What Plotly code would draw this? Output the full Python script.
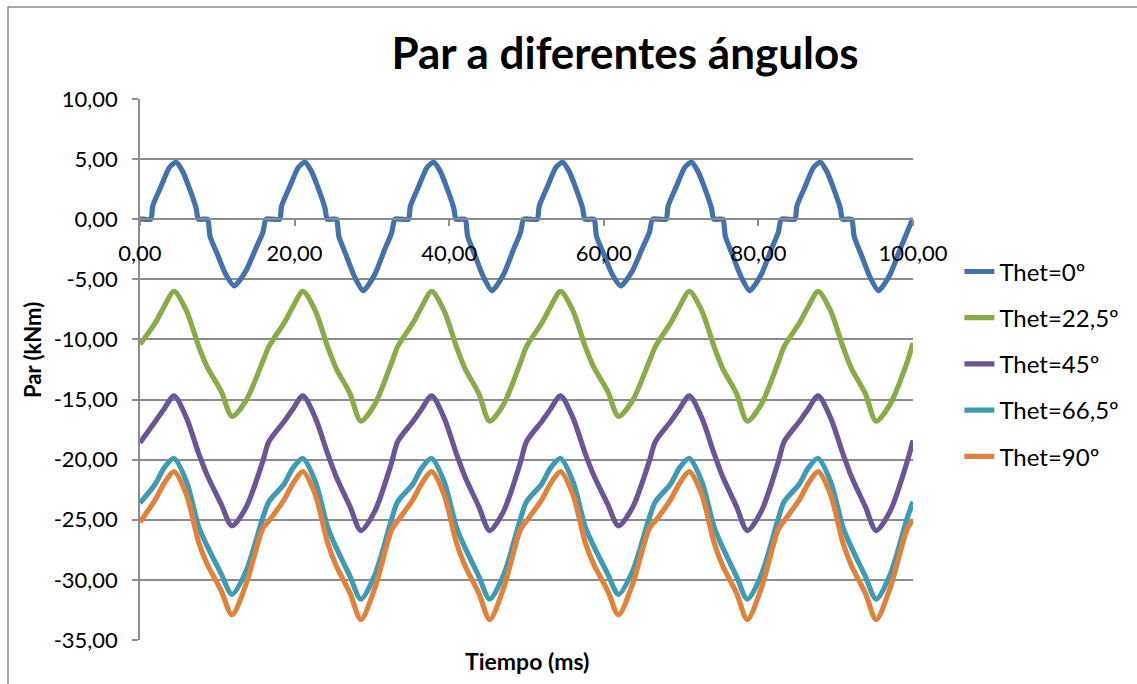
import plotly.graph_objects as go

# Tiempo (ms) for Thet=0º
t_thet0 = [
    0, 0.5, 1.4, 1.65, 2.7, 3.8, 4.66, 5.5, 6.2, 7.25, 7.55, 8.15, 8.75, 9.05, 10.0, 11.1, 12.2, 13.7, 15.0, 15.9, 16.3,
    17.17, 18.07, 18.32, 19.37, 20.47, 21.33, 22.17, 22.87, 23.92, 24.22, 24.82, 25.42, 25.72, 26.67, 27.77, 28.87, 30.37, 31.67, 32.57, 32.97,
    33.83, 34.73, 34.98, 36.03, 37.13, 37.99, 38.83, 39.53, 40.58, 40.88, 41.48, 42.08, 42.38, 43.33, 44.43, 45.53, 47.03, 48.33, 49.23, 49.63,
    50.5, 51.4, 51.65, 52.7, 53.8, 54.66, 55.5, 56.2, 57.25, 57.55, 58.15, 58.75, 59.05, 60.0, 61.1, 62.2, 63.7, 65.0, 65.9, 66.3,
    67.17, 68.07, 68.32, 69.37, 70.47, 71.33, 72.17, 72.87, 73.92, 74.22, 74.82, 75.42, 75.72, 76.67, 77.77, 78.87, 80.37, 81.67, 82.57, 82.97,
    83.83, 84.73, 84.98, 86.03, 87.13, 87.99, 88.83, 89.53, 90.58, 90.88, 91.48, 92.08, 92.38, 93.33, 94.43, 95.53, 97.03, 98.33, 99.23, 100,
]

# Par (kNm), Thet=0º
par_thet0 = [
    0, 0, 0, 1.1, 2.7, 4.3, 4.75, 4.0, 2.9, 0.95, 0, 0, 0, -1.4, -2.9, -4.6, -5.55, -4.3, -2.4, -1.1, 0,
    0, 0, 1.1, 2.7, 4.3, 4.75, 4.0, 2.9, 0.95, 0, 0, 0, -1.4, -3.0, -4.8, -5.95, -4.6, -2.5, -1.1, 0,
    0, 0, 1.1, 2.7, 4.3, 4.75, 4.0, 2.9, 0.95, 0, 0, 0, -1.4, -3.0, -4.8, -5.95, -4.6, -2.5, -1.1, 0,
    0, 0, 1.1, 2.7, 4.3, 4.75, 4.0, 2.9, 0.95, 0, 0, 0, -1.4, -2.9, -4.6, -5.55, -4.3, -2.4, -1.1, 0,
    0, 0, 1.1, 2.7, 4.3, 4.75, 4.0, 2.9, 0.95, 0, 0, 0, -1.4, -3.0, -4.8, -5.95, -4.6, -2.5, -1.1, 0,
    0, 0, 1.1, 2.7, 4.3, 4.75, 4.0, 2.9, 0.95, 0, 0, 0, -1.4, -3.0, -4.8, -5.95, -4.6, -2.5, -1.1, 0.1,
]

# Tiempo (ms) shared by the other four angles
t_thet = [
    0, 2.0, 3.1, 4.4, 6.0, 7.6, 8.7, 10.5, 11.9, 13.7, 15.9,
    16.67, 18.67, 19.77, 21.07, 22.67, 24.27, 25.37, 27.17, 28.57, 30.37, 32.57,
    33.33, 35.33, 36.43, 37.73, 39.33, 40.93, 42.03, 43.83, 45.23, 47.03, 49.23,
    50.0, 52.0, 53.1, 54.4, 56.0, 57.6, 58.7, 60.5, 61.9, 63.7, 65.9,
    66.67, 68.67, 69.77, 71.07, 72.67, 74.27, 75.37, 77.17, 78.57, 80.37, 82.57,
    83.33, 85.33, 86.43, 87.73, 89.33, 90.93, 92.03, 93.83, 95.23, 97.03, 99.23,
    100,
]

par_thet22 = [
    -10.4, -8.6, -7.3, -6.0, -7.6, -10.6, -12.3, -14.3, -16.4, -15.1, -11.8,
    -10.6, -8.6, -7.3, -6.0, -7.6, -10.6, -12.4, -14.5, -16.8, -15.4, -11.9,
    -10.6, -8.6, -7.3, -6.0, -7.6, -10.6, -12.4, -14.5, -16.8, -15.4, -11.9,
    -10.6, -8.6, -7.3, -6.0, -7.6, -10.6, -12.3, -14.3, -16.4, -15.1, -11.8,
    -10.6, -8.6, -7.3, -6.0, -7.6, -10.6, -12.4, -14.5, -16.8, -15.4, -11.9,
    -10.6, -8.6, -7.3, -6.0, -7.6, -10.6, -12.4, -14.5, -16.8, -15.4, -11.9,
    -10.3,
]

par_thet45 = [
    -18.6, -16.8, -15.8, -14.7, -16.5, -19.5, -21.3, -23.7, -25.5, -24.0, -20.1,
    -18.5, -16.8, -15.8, -14.7, -16.5, -19.5, -21.4, -23.9, -25.9, -24.3, -20.2,
    -18.5, -16.8, -15.8, -14.7, -16.5, -19.5, -21.4, -23.9, -25.9, -24.3, -20.2,
    -18.5, -16.8, -15.8, -14.7, -16.5, -19.5, -21.3, -23.7, -25.5, -24.0, -20.1,
    -18.5, -16.8, -15.8, -14.7, -16.5, -19.5, -21.4, -23.9, -25.9, -24.3, -20.2,
    -18.5, -16.8, -15.8, -14.7, -16.5, -19.5, -21.4, -23.9, -25.9, -24.3, -20.2,
    -18.4,
]

par_thet66 = [
    -23.6, -22.0, -20.7, -19.9, -21.8, -25.6, -27.2, -29.5, -31.2, -29.3, -24.8,
    -23.5, -22.0, -20.7, -19.9, -21.8, -25.6, -27.3, -29.7, -31.6, -29.6, -24.9,
    -23.5, -22.0, -20.7, -19.9, -21.8, -25.6, -27.3, -29.7, -31.6, -29.6, -24.9,
    -23.5, -22.0, -20.7, -19.9, -21.8, -25.6, -27.2, -29.5, -31.2, -29.3, -24.8,
    -23.5, -22.0, -20.7, -19.9, -21.8, -25.6, -27.3, -29.7, -31.6, -29.6, -24.9,
    -23.5, -22.0, -20.7, -19.9, -21.8, -25.6, -27.3, -29.7, -31.6, -29.6, -24.9,
    -23.5,
]

par_thet90 = [
    -25.2, -23.3, -22.0, -21.0, -22.9, -26.9, -28.7, -30.9, -32.9, -30.4, -25.7,
    -25.1, -23.3, -22.0, -21.0, -22.9, -26.9, -28.8, -31.1, -33.3, -30.7, -25.8,
    -25.1, -23.3, -22.0, -21.0, -22.9, -26.9, -28.8, -31.1, -33.3, -30.7, -25.8,
    -25.1, -23.3, -22.0, -21.0, -22.9, -26.9, -28.7, -30.9, -32.9, -30.4, -25.7,
    -25.1, -23.3, -22.0, -21.0, -22.9, -26.9, -28.8, -31.1, -33.3, -30.7, -25.8,
    -25.1, -23.3, -22.0, -21.0, -22.9, -26.9, -28.8, -31.1, -33.3, -30.7, -25.8,
    -25.0,
]

series_names = ["Thet=0º", "Thet=22,5º", "Thet=45º", "Thet=66,5º", "Thet=90º"]
series_colors = ["#4571AA", "#89AB4A", "#6C5593", "#3F9BB4", "#E0823A"]
series_smoothing = [0.6, 0.8, 0.8, 0.8, 0.8]

x_ticks = [0, 20, 40, 60, 80, 100]
x_tick_labels = ["0,00", "20,00", "40,00", "60,00", "80,00", "100,00"]
y_ticks = [10, 5, 0, -5, -10, -15, -20, -25, -30, -35]
y_tick_labels = ["10,00", "5,00", "0,00", "-5,00", "-10,00", "-15,00",
                 "-20,00", "-25,00", "-30,00", "-35,00"]

FONT = "Lato, Calibri, 'Open Sans', sans-serif"
GRID = "#8C8C8C"

fig = go.Figure()
xs = [t_thet0, t_thet, t_thet, t_thet, t_thet]
ys = [par_thet0, par_thet22, par_thet45, par_thet66, par_thet90]
for i, (name, color, sm, x, y) in enumerate(zip(series_names, series_colors, series_smoothing, xs, ys)):
    fig.add_trace(go.Scatter(
        x=x, y=y, name=name, mode="lines",
        line=dict(color=color, width=5.2, shape="spline", smoothing=sm),
        legendgroup=f"g{i}",
    ))

Y_MIN, Y_MAX = -35, 10
fig.update_layout(
    width=1137, height=684,
    margin=dict(l=140, r=224, t=99, b=44),
    paper_bgcolor="white", plot_bgcolor="white",
    font=dict(family=FONT, size=22, color="black"),
    title=dict(text="<b>Par a diferentes ángulos</b>", x=625 / 1137, xref="container",
               xanchor="center", y=1 - 54 / 684, yref="container", yanchor="middle",
               font=dict(family=FONT, size=44, color="black")),
    showlegend=True,
    legend=dict(x=1.06, xanchor="left", y=0.722, yanchor="top",
                font=dict(family=FONT, size=24, color="black"),
                traceorder="grouped", tracegroupgap=12,
                bgcolor="rgba(0,0,0,0)"),
    xaxis=dict(range=[0, 100], tickvals=x_ticks, ticktext=x_tick_labels,
               showgrid=False, zeroline=False, showline=True, linecolor=GRID, linewidth=1.5,
               ticks="outside", ticklen=6, tickcolor=GRID, tickwidth=1.5,
               anchor="free", position=(0 - Y_MIN) / (Y_MAX - Y_MIN),
               ticklabelstandoff=9, tickfont=dict(size=22)),
    yaxis=dict(range=[Y_MIN, Y_MAX], tickvals=y_ticks, ticktext=y_tick_labels,
               showgrid=True, gridcolor=GRID, gridwidth=1.5, zeroline=False,
               showline=True, linecolor=GRID, linewidth=1.5,
               ticks="outside", ticklen=6, tickcolor=GRID, tickwidth=1.5,
               ticklabelstandoff=10, tickfont=dict(size=22)),
)

# axis titles
fig.add_annotation(text="<b>Tiempo (ms)</b>", xref="paper", yref="paper",
                   x=0.5, y=(640 - 661) / 541, xanchor="center", yanchor="middle",
                   showarrow=False, font=dict(family=FONT, size=23, color="black"))
fig.add_annotation(text="<b>Par (kNm)</b>", xref="paper", yref="paper",
                   x=(32 - 140) / 773, y=(640 - 350) / 541, xanchor="center", yanchor="middle",
                   textangle=-90, showarrow=False,
                   font=dict(family=FONT, size=22, color="black"))

# chart area border
fig.add_shape(type="rect", xref="paper", yref="paper",
              x0=(8 - 140) / 773, x1=(1300 - 140) / 773,
              y0=(640 - 800) / 541, y1=(640 - 7) / 541,
              line=dict(color="#8C8C8C", width=1.5), layer="below")

fig.write_html("out.html")
